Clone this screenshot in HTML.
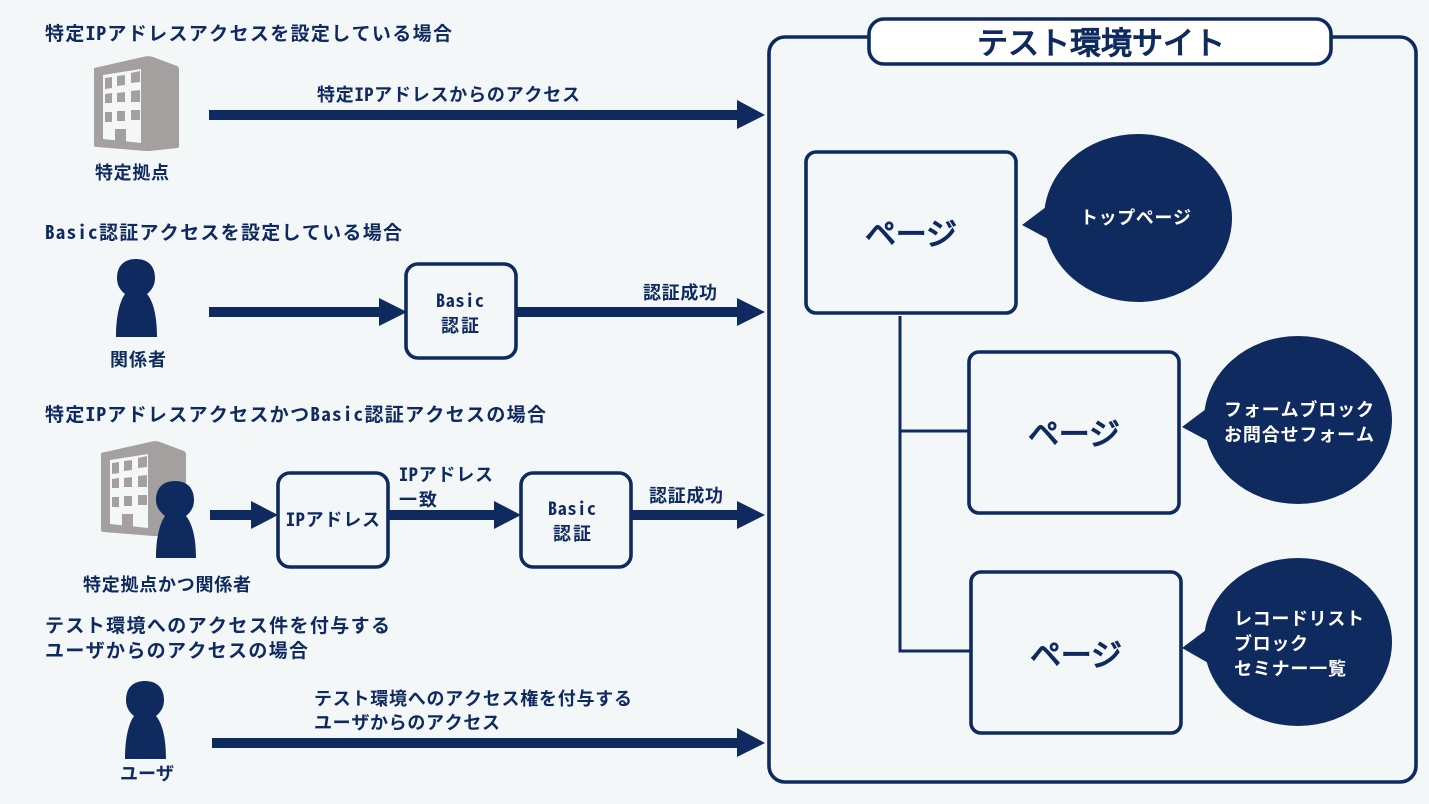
<!DOCTYPE html>
<html lang="ja"><head><meta charset="utf-8"><title>テスト環境サイト</title>
<style>
html,body{margin:0;padding:0;width:1429px;height:804px;overflow:hidden;background:#f3f7f8}
svg{display:block}
text{font-family:"Noto Sans Mono CJK JP","Liberation Mono","Noto Sans CJK JP",monospace;font-weight:700;fill:#0f2a5f;font-size:19px;transform:translateY(.8px)}
.l{font-size:18px}
.big{font-family:"Liberation Sans","Noto Sans CJK JP",sans-serif;font-weight:400;font-size:31px;stroke:#0f2a5f;stroke-width:1.3px}
.w{fill:#fff;font-size:18px}
.b{fill:none;stroke:#0f2a5f;stroke-width:3.6}
.a{fill:#0f2a5f}
.g{fill:#a5a0a0}
.gw{fill:#f3f7f8}
</style></head><body>
<svg width="1429" height="804" viewBox="0 0 1429 804" xmlns="http://www.w3.org/2000/svg">
<defs>
<g id="bld">
<path class="g" d="M94 68 L145 56.500 Q149 55.500 153 57 L177 66 Q179 67 179 69 V146 Q179 148 177 148 L150 151 Q148 151 146 151 L97 147 Q94 147 94 145Z"/>
<path class="gw" d="M103 75 L141 69 V143 L103 139Z"/>
<path class="g" d="M105 78l7-1v11l-7 1zM117 76l8-1v10l-8 1zM131 73l9-2v11l-9 1zM105 94l7-1v10h-7zM117 93l8-1v10h-8zM131 91l9-1v12h-9zM105 112h7v10h-7zM117 111h8v10h-8zM131 110h9v10h-9zM115 129h11v14h-11z"/>
</g>
<g id="per">
<path class="a" d="M136 259 C148 259 155 266 155 278 C155 285 152 290 147 294 C153 301 157 315 157 337 H116 C116 315 120 301 125 294 C120 290 117 285 117 278 C117 266 124 259 136 259Z"/>
</g>
</defs>
<rect width="1429" height="804" fill="#f3f7f8"/>

<!-- Left headings -->
<text x="45" y="39" textLength="407">特定IPアドレスアクセスを設定している場合</text>
<text x="45" y="238" textLength="357">Basic認証アクセスを設定している場合</text>
<text x="45" y="420" textLength="501">特定IPアドレスアクセスかつBasic認証アクセスの場合</text>
<text x="45" y="631" textLength="345">テスト環境へのアクセス件を付与する</text>
<text x="45" y="656" textLength="263">ユーザからのアクセスの場合</text>

<!-- Row 1 -->
<use href="#bld"/>
<text class="l" x="95" y="178" textLength="74">特定拠点</text>
<rect class="a" x="209" y="110" width="530" height="10"/>
<path class="a" d="M737 100 L765 115 L737 129Z"/>
<text class="l" x="317" y="100" textLength="263">特定IPアドレスからのアクセス</text>

<!-- Row 2 -->
<use href="#per"/>
<text class="l" x="110" y="365" textLength="56">関係者</text>
<rect class="a" x="209" y="307" width="172" height="10"/>
<path class="a" d="M379 298 L407 312 L379 326Z"/>
<rect class="b" x="406" y="264" width="110" height="94" rx="12"/>
<text class="l" x="436" y="306" textLength="48">Basic</text>
<text class="l" x="441" y="331" textLength="38">認証</text>
<rect class="a" x="517" y="307" width="222" height="10"/>
<path class="a" d="M737 298 L765 312 L737 326Z"/>
<text class="l" x="643" y="298" textLength="74">認証成功</text>

<!-- Row 3 -->
<g transform="translate(7,385)"><use href="#bld"/></g>
<path class="a" d="M175 481 C187 481 194 488 194 500 C194 507 191 512 186 516 C192 523 196 537 196 558 H156 C156 537 160 523 165 516 C160 512 156 507 156 500 C156 488 163 481 175 481Z"/>
<text class="l" x="83" y="590" textLength="168">特定拠点かつ関係者</text>
<rect class="a" x="210" y="510" width="42" height="10"/>
<path class="a" d="M251 501 L278 515 L251 529Z"/>
<rect class="b" x="278" y="473" width="110" height="94" rx="12"/>
<text class="l" x="286" y="525" textLength="94">IPアドレス</text>
<rect class="a" x="389" y="510" width="107" height="10"/>
<path class="a" d="M494 501 L521 515 L494 529Z"/>
<text class="l" x="399" y="480" textLength="94">IPアドレス</text>
<text class="l" x="399" y="505" textLength="38">一致</text>
<rect class="b" x="521" y="473" width="110" height="94" rx="12"/>
<text class="l" x="548" y="514" textLength="48">Basic</text>
<text class="l" x="553" y="539" textLength="38">認証</text>
<rect class="a" x="632" y="510" width="107" height="10"/>
<path class="a" d="M737 501 L765 515 L737 529Z"/>
<text class="l" x="649" y="501" textLength="74">認証成功</text>

<!-- Row 4 -->
<g transform="translate(9,422)"><use href="#per"/></g>
<text class="l" x="120" y="779" textLength="54">ユーザ</text>
<rect class="a" x="212" y="738" width="527" height="10"/>
<path class="a" d="M737 728 L765 743 L737 757Z"/>
<text class="l" x="314" y="704" textLength="318">テスト環境へのアクセス権を付与する</text>
<text class="l" x="314" y="728" textLength="186">ユーザからのアクセス</text>

<!-- Site frame -->
<rect class="b" x="769" y="37" width="647" height="745" rx="16"/>
<rect x="869" y="19" width="462" height="45" rx="15" fill="#fff" stroke="#0f2a5f" stroke-width="3.6"/>
<text class="big" x="977" y="53" textLength="248">テスト環境サイト</text>

<!-- Tree -->
<path d="M900 316 V651 H971 M900 431 H969" fill="none" stroke="#0f2a5f" stroke-width="3"/>
<rect class="b" x="806" y="152" width="210" height="161" rx="10"/>
<rect class="b" x="969" y="352" width="210" height="161" rx="10"/>
<rect class="b" x="971" y="572" width="210" height="161" rx="10"/>
<text class="big" x="865" y="244" textLength="92">ページ</text>
<text class="big" x="1028" y="444" textLength="92">ページ</text>
<text class="big" x="1030" y="665" textLength="92">ページ</text>

<!-- Bubbles -->
<ellipse class="a" cx="1138" cy="218" rx="94" ry="84"/>
<path class="a" d="M1022 225 L1046 207 L1050 240Z"/>
<ellipse class="a" cx="1298" cy="420" rx="94" ry="84"/>
<path class="a" d="M1182 427 L1206 409 L1210 442Z"/>
<ellipse class="a" cx="1298" cy="642" rx="94" ry="84"/>
<path class="a" d="M1182 648 L1206 630 L1210 664Z"/>
<text class="w" x="1080" y="223" textLength="111">トップページ</text>
<text class="w" x="1224" y="415" textLength="150">フォームブロック</text>
<text class="w" x="1224" y="440" textLength="150">お問合せフォーム</text>
<text class="w" x="1234" y="624" textLength="130">レコードリスト</text>
<text class="w" x="1234" y="649" textLength="74">ブロック</text>
<text class="w" x="1234" y="674" textLength="112">セミナー一覧</text>
</svg>
</body></html>
